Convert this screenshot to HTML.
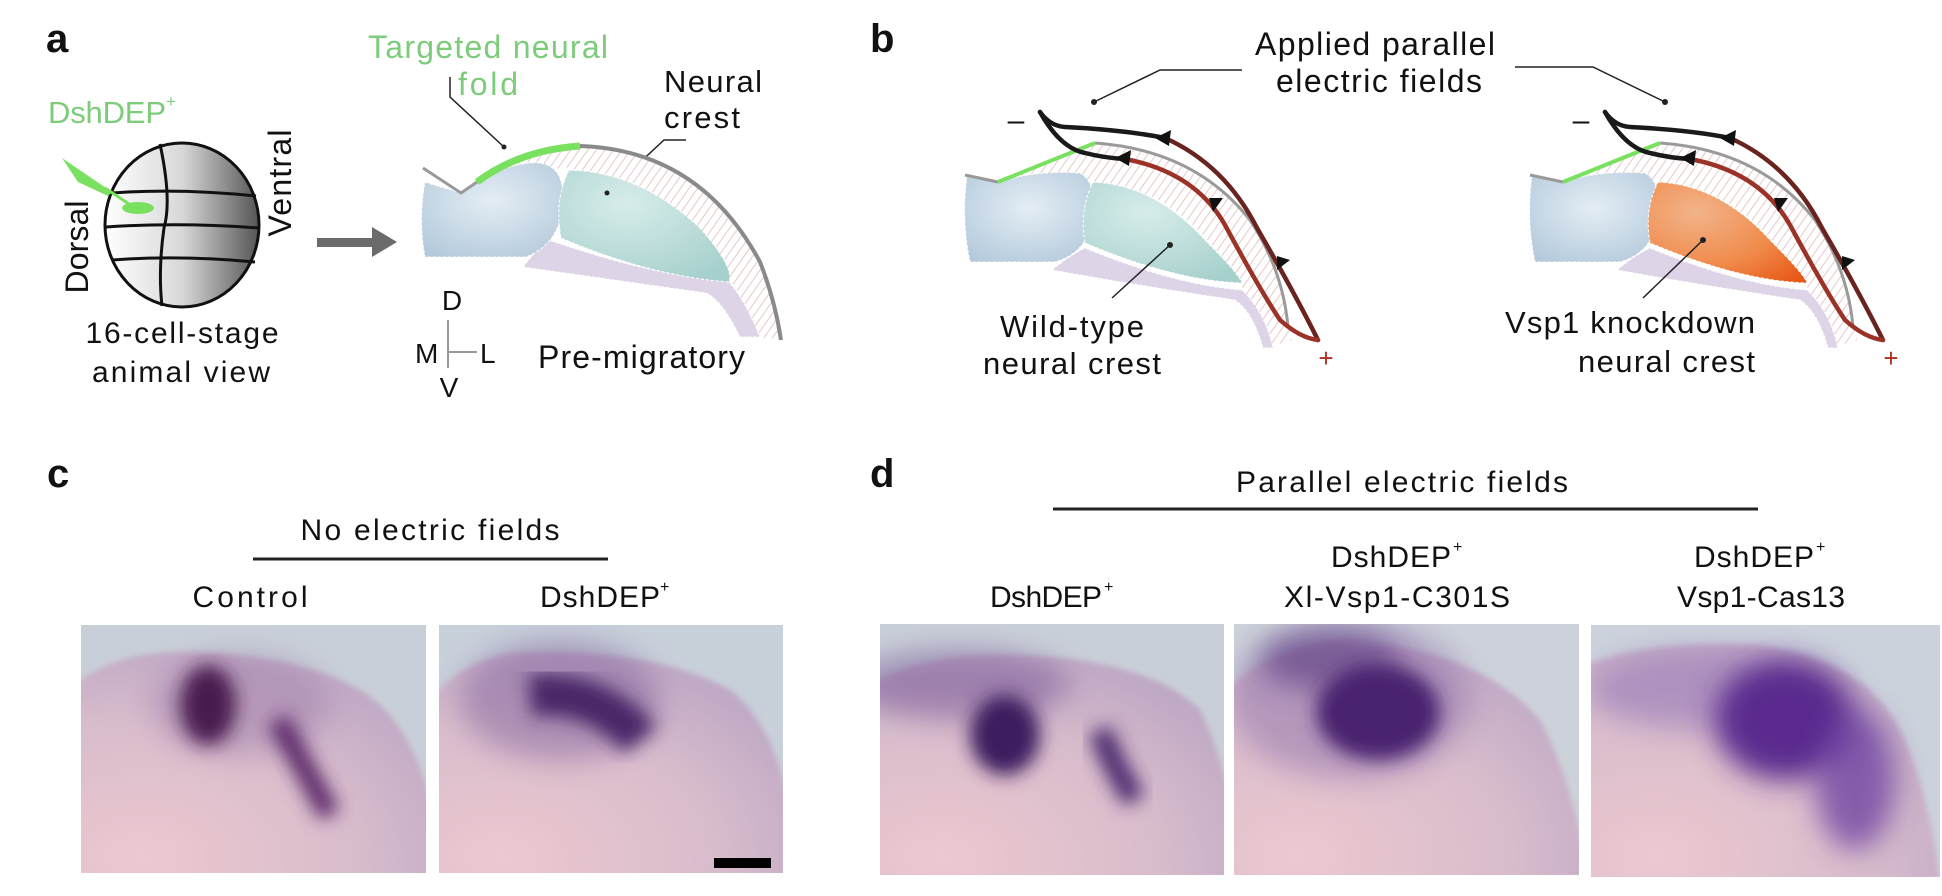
<!DOCTYPE html>
<html><head><meta charset="utf-8"><style>
html,body{margin:0;padding:0;background:#fff;width:1942px;height:896px;overflow:hidden}
svg{display:block}
text{font-family:"Liberation Sans",sans-serif;fill:#111}
</style></head><body>
<svg width="1942" height="896" viewBox="0 0 1942 896" xmlns="http://www.w3.org/2000/svg">
<defs>
<pattern id="hatch" width="7" height="7" patternUnits="userSpaceOnUse" patternTransform="rotate(35)">
<rect width="7" height="7" fill="#fff"/><line x1="0" y1="0" x2="0" y2="7" stroke="#e6c8c8" stroke-width="2"/></pattern>
<linearGradient id="globe" x1="0" x2="1"><stop offset="0" stop-color="#fff"/><stop offset="0.5" stop-color="#d8d8d8"/><stop offset="1" stop-color="#555"/></linearGradient>
<radialGradient id="blue" cx="0.5" cy="0.4" r="0.7"><stop offset="0" stop-color="#e4edf4"/><stop offset="1" stop-color="#b4cadc"/></radialGradient>
<radialGradient id="teal" cx="0.4" cy="0.3" r="0.8"><stop offset="0" stop-color="#d6ecea"/><stop offset="1" stop-color="#a6d0cc"/></radialGradient>
<radialGradient id="orange" cx="0.3" cy="0.3" r="0.9"><stop offset="0" stop-color="#f2b48a"/><stop offset="0.6" stop-color="#f08a4a"/><stop offset="1" stop-color="#e85a18"/></radialGradient>
<filter id="bl" x="-50%" y="-50%" width="200%" height="200%"><feGaussianBlur stdDeviation="14"/></filter>
<filter id="bl2" x="-50%" y="-50%" width="200%" height="200%"><feGaussianBlur stdDeviation="9"/></filter>
<filter id="bl3" x="-20%" y="-20%" width="140%" height="140%"><feGaussianBlur stdDeviation="3"/></filter>
<radialGradient id="emb" cx="0.2" cy="0.9" r="1"><stop offset="0" stop-color="#ecc8d0"/><stop offset="0.6" stop-color="#d8bccc"/><stop offset="1" stop-color="#bca6c4"/></radialGradient>
<clipPath id="p1"><rect x="81" y="625" width="345" height="248"/></clipPath>
<clipPath id="p2"><rect x="439" y="625" width="344" height="248"/></clipPath>
<clipPath id="p3"><rect x="880" y="624" width="344" height="251"/></clipPath>
<clipPath id="p4"><rect x="1234" y="624" width="345" height="251"/></clipPath>
<clipPath id="p5"><rect x="1591" y="625" width="349" height="252"/></clipPath>
</defs>

<text x="46" y="52" font-size="40" font-weight="bold">a</text>
<text x="870" y="52" font-size="40" font-weight="bold">b</text>
<text x="47" y="487" font-size="40" font-weight="bold">c</text>
<text x="870" y="487" font-size="40" font-weight="bold">d</text>

<!-- panel a -->
<text x="48" y="123" font-size="31" style="fill:#7dcc7a" textLength="118">DshDEP</text>
<text x="166" y="107" font-size="17" style="fill:#7dcc7a">+</text>
<ellipse cx="182" cy="225" rx="77" ry="82" fill="url(#globe)" stroke="#111" stroke-width="3"/>
<g fill="none" stroke="#111" stroke-width="3">
<path d="M160,144 Q172,200 164,228 Q158,270 162,306"/>
<path d="M112,193 Q180,188 256,196"/>
<path d="M106,227 Q180,222 259,228"/>
<path d="M112,260 Q180,255 255,262"/>
</g>
<polygon points="62,158 112,192 108,196 78,182" fill="#7ae060"/>
<line x1="105" y1="188" x2="132" y2="206" stroke="#7ae060" stroke-width="3"/>
<ellipse cx="138" cy="208" rx="16" ry="6" fill="#7ae060"/>
<text transform="translate(88,247) rotate(-90)" font-size="32" text-anchor="middle" textLength="93">Dorsal</text>
<text transform="translate(291,183) rotate(-90)" font-size="32" text-anchor="middle" textLength="107">Ventral</text>
<text x="182" y="343" font-size="30" text-anchor="middle" textLength="193">16-cell-stage</text>
<text x="181" y="382" font-size="30" text-anchor="middle" textLength="178">animal view</text>
<polygon points="317,238 372,238 372,227 397,242 372,257 372,247 317,247" fill="#6b6b6b"/>

<text x="488" y="58" font-size="32" text-anchor="middle" style="fill:#7dcc7a" textLength="240">Targeted neural</text>
<text x="488" y="95" font-size="32" text-anchor="middle" style="fill:#7dcc7a" textLength="60">fold</text>
<polyline points="450,77 450,97 504,147" fill="none" stroke="#222" stroke-width="1.5"/><circle cx="504" cy="147" r="2.5" fill="#222"/>
<text x="664" y="92" font-size="31" textLength="98">Neural</text>
<text x="664" y="128" font-size="31" textLength="76">crest</text>
<polyline points="686,140 664,140 607,193" fill="none" stroke="#222" stroke-width="1.5"/>

<path d="M470,188 Q520,150 580,146 Q700,150 760,262 Q775,300 781,340 L758,337 Q730,250 640,200 Q600,175 565,167 Z" fill="url(#hatch)"/>
<path d="M523,267 Q540,245 549,240 Q650,275 729,282 Q745,300 760,337 L740,337 Q722,300 706,293 Q600,278 523,267 Z" fill="#ddd4e7" stroke="#fff" stroke-dasharray="3,2"/>
<path d="M425,182 L461,193 Q500,165 530,163 Q562,160 563,195 Q564,242 526,257 L425,257 Q418,220 425,182 Z" fill="url(#blue)" stroke="#fff" stroke-dasharray="3,2"/>
<path d="M569,170 Q640,172 700,228 Q735,268 729,282 Q650,276 561,238 Q554,200 569,170 Z" fill="url(#teal)" stroke="#fff" stroke-dasharray="3,2"/>
<circle cx="607" cy="193" r="2.5" fill="#222"/>
<path d="M580,146 Q700,150 760,262 Q775,300 781,340" fill="none" stroke="#8a8a8a" stroke-width="4"/>
<polyline points="423,168 461,193 477,182" fill="none" stroke="#999" stroke-width="3"/>
<path d="M477,182 Q520,150 580,146" fill="none" stroke="#7ae060" stroke-width="7"/>

<text x="452" y="310" font-size="28" text-anchor="middle">D</text>
<line x1="448" y1="320" x2="448" y2="368" stroke="#999" stroke-width="2"/>
<line x1="448" y1="352" x2="477" y2="352" stroke="#999" stroke-width="2"/>
<text x="415" y="363" font-size="28">M</text>
<text x="480" y="363" font-size="28">L</text>
<text x="449" y="397" font-size="28" text-anchor="middle">V</text>
<text x="538" y="368" font-size="32" textLength="207">Pre-migratory</text>

<!-- panel b -->
<text x="1375" y="55" font-size="32" text-anchor="middle" textLength="240">Applied parallel</text>
<text x="1379" y="92" font-size="32" text-anchor="middle" textLength="206">electric fields</text>
<polyline points="1242,70 1160,70 1094,102" fill="none" stroke="#222" stroke-width="1.5"/><circle cx="1094" cy="102" r="3" fill="#222"/>
<polyline points="1515,67 1593,67 1665,102" fill="none" stroke="#222" stroke-width="1.5"/><circle cx="1665" cy="102" r="3" fill="#222"/>

<g id="bdiag">
<path d="M1563,182 L1660,143 Q1760,150 1815,220 Q1850,280 1857,340 L1830,348 Q1815,300 1807,287 Q1760,210 1700,190 Q1670,180 1600,185 Z" fill="url(#hatch)"/>
<path d="M1617,270 Q1635,255 1650,248 Q1740,285 1807,290 Q1830,312 1838,348 L1828,348 Q1818,312 1800,300 Q1700,285 1617,270 Z" fill="#ddd4e7" stroke="#fff" stroke-dasharray="3,2"/>
<path d="M1532,175 L1563,182 Q1600,170 1645,173 Q1662,182 1657,215 Q1655,252 1620,262 L1535,262 Q1526,220 1532,175 Z" fill="url(#blue)" stroke="#fff" stroke-dasharray="3,2"/>
<path d="M1530,175 L1563,182" stroke="#999" stroke-width="3"/>
<path d="M1660,143 Q1760,150 1815,220 Q1848,270 1853,327" fill="none" stroke="#9a9a9a" stroke-width="3"/>
<path d="M1563,182 L1660,143" stroke="#7ae060" stroke-width="4"/>
<text x="1581" y="130" font-size="30" text-anchor="middle">–</text>
<g fill="none" stroke-width="4.5" stroke-linecap="round">
<path d="M1605,112 Q1615,126 1630,127 Q1690,130 1730,138" stroke="#1a1a1a"/>
<path d="M1730,138 Q1790,165 1822,228 Q1858,290 1883,340" stroke="#6a2420"/>
<path d="M1605,112 Q1625,148 1650,153 Q1670,158 1690,159" stroke="#1a1a1a"/>
<path d="M1690,159 Q1760,172 1790,225 Q1825,290 1845,320 Q1865,338 1883,340" stroke="#9a3228"/>
</g>
<g fill="#111">
<polygon points="1720,138 1736,130 1734,146"/>
<polygon points="1680,158 1696,150 1694,166"/>
<polygon points="1774,198 1788,198 1778,212"/>
<polygon points="1842,256 1855,260 1842,270"/>
</g>
<text x="1891" y="367" font-size="26" text-anchor="middle" style="fill:#b03020">+</text>
</g>
<path d="M1658,182 Q1720,185 1770,240 Q1805,275 1807,283 Q1740,281 1650,243 Q1644,210 1658,182 Z" fill="url(#orange)" stroke="#fff" stroke-dasharray="3,2"/>
<line x1="1703" y1="240" x2="1643" y2="298" stroke="#222" stroke-width="1.5"/><circle cx="1703" cy="240" r="3" fill="#222"/>
<text x="1755" y="333" font-size="31" text-anchor="end" textLength="250">Vsp1 knockdown</text>
<text x="1755" y="372" font-size="31" text-anchor="end" textLength="177">neural crest</text>

<use href="#bdiag" transform="translate(-565,0)"/>
<path d="M1093,182 Q1155,185 1205,240 Q1240,275 1242,283 Q1175,281 1085,243 Q1079,210 1093,182 Z" fill="url(#teal)" stroke="#fff" stroke-dasharray="3,2"/>
<line x1="1170" y1="245" x2="1112" y2="298" stroke="#222" stroke-width="1.5"/><circle cx="1170" cy="245" r="3" fill="#222"/>
<text x="1072" y="337" font-size="31" text-anchor="middle" textLength="144">Wild-type</text>
<text x="1072" y="374" font-size="31" text-anchor="middle" textLength="178">neural crest</text>

<!-- panel c -->
<text x="430" y="540" font-size="30" text-anchor="middle" textLength="259">No electric fields</text>
<line x1="253" y1="559" x2="608" y2="559" stroke="#222" stroke-width="3"/>
<text x="250" y="607" font-size="30" text-anchor="middle" textLength="115">Control</text>
<text x="540" y="607" font-size="30" textLength="120">DshDEP</text>
<text x="660" y="592" font-size="16">+</text>

<g clip-path="url(#p1)">
<rect x="81" y="625" width="345" height="248" fill="#c9cfd8"/>
<path d="M70,690 Q110,650 190,652 Q300,655 360,690 Q410,720 430,800 L430,880 L70,880 Z" fill="url(#emb)" filter="url(#bl3)"/>
<ellipse cx="240" cy="705" rx="90" ry="50" fill="#9a78a8" opacity="0.45" filter="url(#bl)"/>
<ellipse cx="208" cy="705" rx="28" ry="40" fill="#4a1a50" filter="url(#bl2)"/>
<path d="M278,720 Q300,760 330,815" stroke="#5a2868" stroke-width="22" fill="none" filter="url(#bl2)"/>
</g>
<g clip-path="url(#p2)">
<rect x="439" y="625" width="344" height="248" fill="#c8d0da"/>
<path d="M430,700 Q465,655 526,652 Q660,650 730,690 Q772,722 788,800 L788,880 L430,880 Z" fill="url(#emb)" filter="url(#bl3)"/>
<ellipse cx="560" cy="700" rx="100" ry="60" fill="#7a5898" opacity="0.45" filter="url(#bl)"/>
<path d="M530,695 Q600,690 640,740" stroke="#4a2868" stroke-width="42" fill="none" filter="url(#bl2)"/>
<rect x="714" y="858" width="57" height="10" fill="#000"/>
</g>

<!-- panel d -->
<text x="1402" y="492" font-size="30" text-anchor="middle" textLength="332">Parallel electric fields</text>
<line x1="1053" y1="509" x2="1758" y2="509" stroke="#222" stroke-width="3"/>
<text x="990" y="607" font-size="30" textLength="112">DshDEP</text>
<text x="1104" y="592" font-size="16">+</text>
<text x="1331" y="567" font-size="30" textLength="120">DshDEP</text>
<text x="1453" y="552" font-size="16">+</text>
<text x="1397" y="607" font-size="30" text-anchor="middle" textLength="226">Xl-Vsp1-C301S</text>
<text x="1694" y="567" font-size="30" textLength="120">DshDEP</text>
<text x="1816" y="552" font-size="16">+</text>
<text x="1761" y="607" font-size="30" text-anchor="middle" textLength="168">Vsp1-Cas13</text>

<g clip-path="url(#p3)">
<rect x="880" y="624" width="344" height="251" fill="#c9cfd8"/>
<path d="M870,685 Q930,650 1020,655 Q1150,660 1200,710 Q1218,745 1230,800 L1230,880 L870,880 Z" fill="url(#emb)" filter="url(#bl3)"/>
<ellipse cx="960" cy="685" rx="110" ry="35" fill="#7a5898" opacity="0.55" filter="url(#bl)"/>
<ellipse cx="1005" cy="735" rx="35" ry="40" fill="#3e1c5e" filter="url(#bl2)"/>
<path d="M1100,730 Q1115,770 1135,800" stroke="#4e2a70" stroke-width="24" fill="none" filter="url(#bl2)"/>
</g>
<g clip-path="url(#p4)">
<rect x="1234" y="624" width="345" height="251" fill="#cdd2da"/>
<path d="M1225,690 Q1280,640 1350,640 Q1480,650 1540,720 Q1572,780 1585,860 L1585,880 L1225,880 Z" fill="url(#emb)" filter="url(#bl3)"/>
<ellipse cx="1350" cy="700" rx="120" ry="80" fill="#8a6aa8" opacity="0.45" filter="url(#bl)"/>
<ellipse cx="1330" cy="660" rx="70" ry="30" fill="#5a3a80" opacity="0.6" filter="url(#bl)"/>
<ellipse cx="1378" cy="712" rx="62" ry="48" fill="#4a2470" filter="url(#bl2)"/>
</g>
<g clip-path="url(#p5)">
<rect x="1591" y="625" width="349" height="252" fill="#ccd2dc"/>
<path d="M1585,665 Q1650,640 1760,645 Q1870,660 1905,740 Q1930,800 1940,880 L1585,880 Z" fill="url(#emb)" filter="url(#bl3)"/>
<ellipse cx="1700" cy="690" rx="110" ry="40" fill="#9a7ab8" opacity="0.6" filter="url(#bl)"/>
<ellipse cx="1785" cy="720" rx="70" ry="60" fill="#5a2c8e" filter="url(#bl)"/>
<ellipse cx="1855" cy="780" rx="40" ry="70" fill="#6a3ca0" opacity="0.75" filter="url(#bl)"/>
</g>
</svg>
</body></html>
